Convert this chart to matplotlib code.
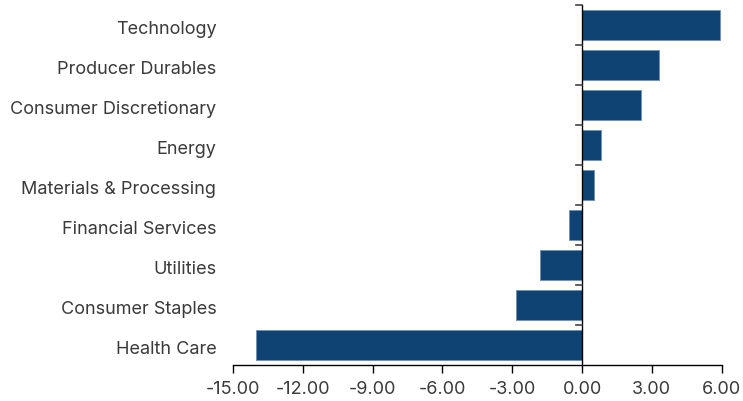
import numpy as np
import matplotlib.pyplot as plt
import matplotlib.transforms as mtransforms
from matplotlib.ticker import FormatStrFormatter

sectors = ["Technology", "Producer Durables", "Consumer Discretionary", "Energy",
           "Materials & Processing", "Financial Services", "Utilities",
           "Consumer Staples", "Health Care"]
returns = [5.95, 3.32, 2.52, 0.83, 0.53, -0.57, -1.79, -2.82, -14.03]

bar_color = "#0f4374"
text_color = "#3a3a3a"

plt.rcParams['font.family'] = ['Inter', 'DejaVu Sans']

fig = plt.figure(figsize=(7.43, 4.02), dpi=100)
ax = fig.add_axes([233 / 743, 1 - 366 / 402, (721.6 - 233) / 743, 360 / 402])

y = np.arange(len(sectors))
ax.barh(y, returns, height=0.75, color=bar_color, edgecolor="#6f8fb3", linewidth=0.6, zorder=2)
ax.set_ylim(len(sectors) - 0.5, -0.5)
ax.set_xlim(-15, 6)
ax.set_xticks(np.arange(-15, 7, 3))
ax.xaxis.set_major_formatter(FormatStrFormatter('%.2f'))

# only the bottom spine, the zero line works as the category axis
for s in ["top", "right", "left"]:
    ax.spines[s].set_visible(False)
ax.spines["bottom"].set_color("black")
ax.spines["bottom"].set_linewidth(1.0)
ax.axvline(0, color="black", linewidth=1.0, zorder=3)

# boundary ticks on the zero line
for b in np.arange(-0.5, len(sectors) - 0.5, 1):
    ax.plot([-0.25, 0], [b, b], color="#444444", linewidth=1.2, zorder=3, clip_on=False)

ax.set_yticks(y)
ax.set_yticklabels(sectors, color=text_color, fontsize=13)
ax.tick_params(axis="y", length=0, pad=12)
ax.tick_params(axis="x", direction="out", length=6, width=1, colors="black",
               labelcolor=text_color, labelsize=13, pad=5)

# nudge the category labels down a little
offset = mtransforms.ScaledTranslation(0, -2 / 100, fig.dpi_scale_trans)
for lbl in ax.get_yticklabels():
    lbl.set_transform(lbl.get_transform() + offset)

fig.savefig("out.png", dpi=100)
